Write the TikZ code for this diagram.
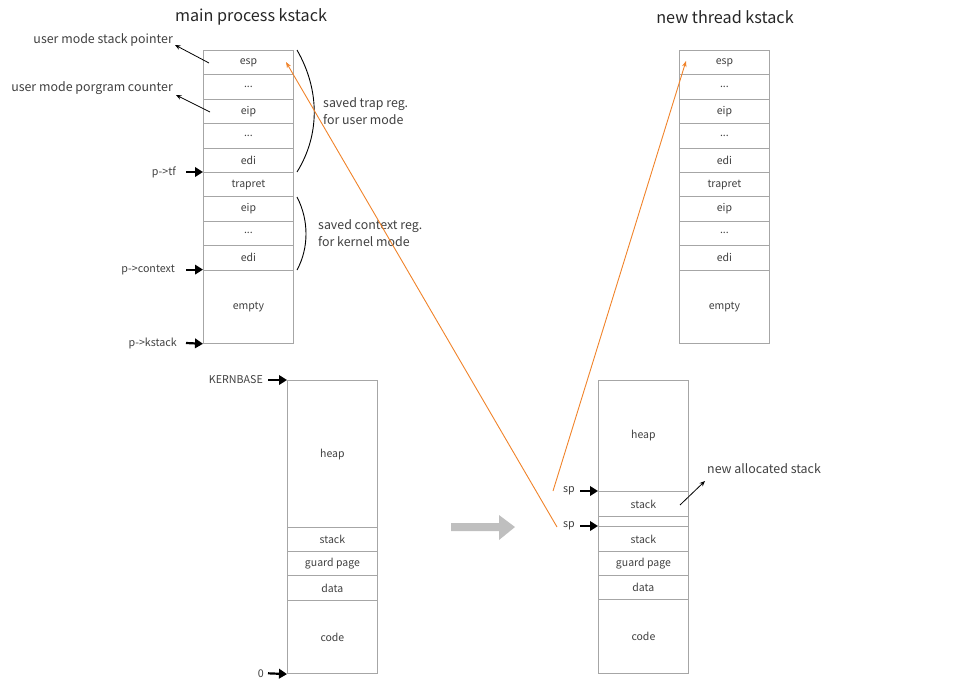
\documentclass[tikz,border=0pt]{standalone}
\usepackage{fontspec}
\setmainfont{Noto Sans CJK KR}
\usetikzlibrary{arrows.meta}
\definecolor{boxgray}{HTML}{A6A6A6}
\definecolor{txt}{HTML}{404040}
\definecolor{org}{HTML}{F0832A}
\definecolor{bigarrow}{HTML}{BFBFBF}
\begin{document}
\begin{tikzpicture}[x=1pt,y=-1pt,
  cell/.style={draw=boxgray, line width=0.8pt, minimum width=90pt, inner sep=0pt,
    text=txt, font=\fontsize{10.5}{12}\selectfont, anchor=north west},
  lbl/.style={text=txt, inner sep=0pt, font=\fontsize{10.7}{12}\selectfont},
  note/.style={text=txt, inner sep=0pt, font=\fontsize{12.4}{16.5}\selectfont, align=left},
  title/.style={text=black!85, inner sep=0pt, font=\fontsize{16.2}{18}\selectfont},
  ptr/.style={line width=2.2pt, -{Triangle[length=8pt,width=9.5pt]}},
  thinarr/.style={line width=0.8pt, -{Stealth[length=5.5pt,width=4.5pt]}},
  orgarr/.style={draw=org, line width=0.9pt, -{Stealth[length=6pt,width=4.5pt]}},
  brace/.style={line width=0.9pt}
]
\useasboundingbox (0,0) rectangle (973,693);

% titles
\node[title] (t1) at (251,17) {main process kstack};
\node[title] (t2) at (725,17) {new thread kstack};

% left kstack
\node[cell, minimum height=24.4pt] (L1) at (203,50) {esp};
\node[cell, minimum height=24.4pt] (L2) at (203,74.4) {...};
\node[cell, minimum height=24.4pt] (L3) at (203,98.8) {eip};
\node[cell, minimum height=24.4pt] (L4) at (203,123.2) {...};
\node[cell, minimum height=24.4pt] (L5) at (203,147.6) {edi};
\node[cell, minimum height=24.4pt] (L6) at (203,172) {trapret};
\node[cell, minimum height=24.4pt] (L7) at (203,196.4) {eip};
\node[cell, minimum height=24.4pt] (L8) at (203,220.8) {...};
\node[cell, minimum height=24.4pt] (L9) at (203,245.2) {edi};
\node[cell, minimum height=73.4pt] (L10) at (203,269.6) {empty};

% right kstack
\node[cell, minimum height=24.4pt] (R1) at (679,50) {esp};
\node[cell, minimum height=24.4pt] (R2k) at (679,74.4) {...};
\node[cell, minimum height=24.4pt] (R3) at (679,98.8) {eip};
\node[cell, minimum height=24.4pt] (R4k) at (679,123.2) {...};
\node[cell, minimum height=24.4pt] (R5) at (679,147.6) {edi};
\node[cell, minimum height=24.4pt] (R6) at (679,172) {trapret};
\node[cell, minimum height=24.4pt] (R7) at (679,196.4) {eip};
\node[cell, minimum height=24.4pt] (R8) at (679,220.8) {...};
\node[cell, minimum height=24.4pt] (R9) at (679,245.2) {edi};
\node[cell, minimum height=73.4pt] (R10) at (679,269.6) {empty};

% left memory
\node[cell, minimum height=147.3pt] (M1) at (287,380) {heap};
\node[cell, minimum height=24pt] (M2) at (287,527.3) {stack};
\node[cell, minimum height=24pt] (M3) at (287,551.3) {guard page};
\node[cell, minimum height=24.7pt] (M4) at (287,575.3) {data};
\node[cell, minimum height=73.3pt] (M5) at (287,600) {code};

% right memory
\node[cell, minimum height=111pt] (N1) at (598,380) {heap};
\node[cell, minimum height=25pt] (N2) at (598,491) {stack};
\node[cell, minimum height=10pt] (N3) at (598,516) {};
\node[cell, minimum height=25.3pt] (N4) at (598,526) {stack};
\node[cell, minimum height=24pt] (N5) at (598,551.3) {guard page};
\node[cell, minimum height=24pt] (N6) at (598,575.3) {data};
\node[cell, minimum height=73.7pt] (N7) at (598,599.3) {code};

% pointer labels and arrows (left kstack)
\node[lbl, anchor=east] (ptf) at (176,172) {p->tf};
\coordinate (ptfs) at (186,172);
\draw[ptr] (ptfs) -- (L6.north west);
\node[lbl, anchor=east] (pctx) at (175,270) {p->context};
\coordinate (pctxs) at (186,269.6);
\draw[ptr] (pctxs) -- (L10.north west);
\node[lbl, anchor=east] (pks) at (177,343) {p->kstack};
\coordinate (pkss) at (186,343);
\draw[ptr] (pkss) -- (L10.south west);

% memory pointers
\node[lbl, anchor=east] (kb) at (263,380) {KERNBASE};
\coordinate (kbs) at (268,380);
\draw[ptr] (kbs) -- (M1.north west);
\node[lbl, anchor=east] (zero) at (264,673.3) {0};
\coordinate (zeros) at (268,673.3);
\draw[ptr] (zeros) -- (M5.south west);

\node[lbl, anchor=east] (sp1) at (575,491) {sp};
\coordinate (sp1s) at (580,491);
\draw[ptr] (sp1s) -- (N2.north west);
\node[lbl, anchor=east] (sp2) at (575,526) {sp};
\coordinate (sp2s) at (580,526);
\draw[ptr] (sp2s) -- (N4.north west);

% user mode labels
\node[note, anchor=east] (usp) at (173,40) {user mode stack pointer};
\coordinate (usps) at (209,63);
\draw[thinarr] (usps) -- ([yshift=-5pt,xshift=2pt]usp.east);
\node[note, anchor=east] (upc) at (173,88) {user mode porgram counter};
\coordinate (upcs) at (210,112);
\draw[thinarr] (upcs) -- ([yshift=-7pt,xshift=3pt]upc.east);

% braces
\draw[brace] (297,50) .. controls (320,90) and (320,135) .. (297,172);
\draw[brace] (297,197) .. controls (309,220) and (309,248) .. (297,270);
\node[note, anchor=west] (trap) at (323,111) {saved trap reg.\\for user mode};
\node[note, anchor=west] (ctx) at (318,233) {saved context reg.\\for kernel mode};

% orange connectors
\coordinate (o1s) at (557,527);
\coordinate (o1e) at (286,62);
\draw[orgarr] (o1s) -- (o1e);
\coordinate (o2s) at (553,491);
\coordinate (o2e) at (686,61);
\draw[orgarr] (o2s) -- (o2e);

% new allocated stack
\node[note, anchor=west] (nas) at (707,469) {new allocated stack};
\coordinate (nass) at (680,505);
\coordinate (nase) at (705,481);
\draw[thinarr] (nass) -- (nase);

% big gray arrow
\fill[bigarrow] (451,523) -- (499,523) -- (499,515) -- (515,527) -- (499,540) -- (499,531) -- (451,531) -- cycle;
\end{tikzpicture}
\end{document}
